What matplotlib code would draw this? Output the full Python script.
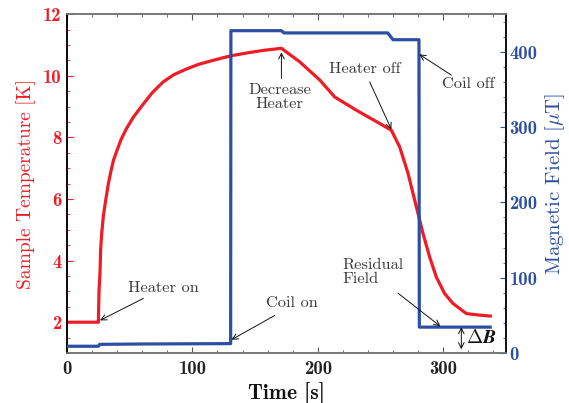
import numpy as np
import matplotlib
matplotlib.use("Agg")
import matplotlib.pyplot as plt

plt.rcParams['mathtext.fontset'] = 'cm'
plt.rcParams['axes.unicode_minus'] = False

# sample temperature [K] vs time [s]
t_temp = [0, 25, 25.5, 26.3, 26.8, 27.6, 28.9, 31, 33, 35, 37, 39.6, 43, 47.6, 53,
          60.8, 68, 76.7, 85, 95.4, 105, 116.6, 125, 132.5, 145, 158, 171,
          172.3, 185.6, 201.6, 213.5, 230.8, 249.4, 258.7, 265.3, 272, 277.3,
          281.3, 284, 289.2, 294.5, 301.2, 307.8, 318.5, 329, 337.6]
temp = [2.0, 2.0, 3.0, 3.6, 4.34, 4.85, 5.42, 6.0, 6.5, 6.9, 7.25, 7.55, 7.92, 8.3, 8.66,
        9.08, 9.45, 9.8, 10.03, 10.22, 10.37, 10.5, 10.59, 10.66, 10.75, 10.83, 10.89,
        10.85, 10.45, 9.86, 9.31, 8.88, 8.45, 8.23, 7.69, 6.83, 5.96,
        5.31, 4.87, 4.12, 3.47, 2.93, 2.61, 2.28, 2.23, 2.2]

# magnetic field [uT] vs time [s]
t_field = [0, 25, 26, 60, 130.5, 130.7, 171, 173, 255.8, 260, 280.7, 281, 337.5]
field = [9, 9, 11.5, 12, 12.5, 428, 428, 425, 425, 416, 416, 34.4, 34.4]

red = "#ee1c25"
blue = "#2d4fa3"
grey = "#3a3a3a"

fig = plt.figure(figsize=(5.69, 4.03), dpi=100)
ax = fig.add_axes([0.1178, 0.124, 0.7712, 0.841])
ax2 = ax.twinx()

ax.plot(t_temp, temp, color=red, lw=2.3, zorder=3)
ax2.plot(t_field, field, color=blue, lw=2.3, zorder=3)

ax.set_xlim(0, 350)
ax.set_ylim(1, 12)
ax2.set_ylim(0, 450)

ax.set_xticks([0, 100, 200, 300])
ax.set_xticks(np.arange(0, 351, 20), minor=True)
ax.set_yticks([2, 4, 6, 8, 10, 12])
ax.set_yticks(np.arange(1, 12.01, 0.5), minor=True)
ax2.set_yticks([0, 100, 200, 300, 400])
ax2.set_yticks(np.arange(0, 451, 20), minor=True)

for lab in ax.get_xticklabels():
    lab.set_fontfamily("cmb10"); lab.set_fontsize(13.5); lab.set_color("#222222")
for lab in ax.get_yticklabels():
    lab.set_fontfamily("cmb10"); lab.set_fontsize(13.5); lab.set_color(red)
for lab in ax2.get_yticklabels():
    lab.set_fontfamily("cmb10"); lab.set_fontsize(13.5); lab.set_color(blue)

ax.tick_params(axis="x", which="both", direction="in", top=True, colors="#555555", labelcolor="#222222", pad=5)
ax.tick_params(axis="x", which="major", length=4)
ax.tick_params(axis="x", which="minor", length=2.5)
ax.tick_params(axis="y", which="both", direction="in", colors=red, labelcolor=red, pad=4)
ax.tick_params(axis="y", which="major", length=4)
ax.tick_params(axis="y", which="minor", length=2.5)
ax2.tick_params(axis="y", which="both", direction="in", colors=blue, labelcolor=blue, pad=2.5)
ax2.tick_params(axis="y", which="major", length=4)
ax2.tick_params(axis="y", which="minor", length=2.5)

for sp in ["bottom", "top"]:
    ax.spines[sp].set_color("#777777")
    ax2.spines[sp].set_color("#777777")
ax.spines["left"].set_color("#333333")
ax2.spines["right"].set_color("#111111")
for a in (ax, ax2):
    for sp in a.spines.values():
        sp.set_linewidth(1.2)

ax.set_xlabel("Time [s]", fontfamily="cmb10", fontsize=15.5, color="#111111", labelpad=3)
ax.set_ylabel("Sample Temperature [K]", fontfamily="cmr10", fontsize=14, color=red, labelpad=5)
ax2.set_ylabel(r"Magnetic Field [$\mu$T]", fontfamily="cmr10", fontsize=15, color=blue, labelpad=4)

txt = dict(fontfamily="cmr10", fontsize=11.8, color=grey)
arr = dict(arrowstyle="->", color="#111111", lw=0.7, shrinkA=0, shrinkB=0)

# temperature annotations
ax.text(48.6, 3.1, "Heater on", ha="left", va="center", **txt)
ax.annotate("", xy=(26.3, 2.06), xytext=(60.8, 2.77), arrowprops=arr)
ax.text(169.5, 9.3, "Decrease\nHeater", ha="center", va="center", linespacing=1.0, **txt)
ax.annotate("", xy=(171, 10.76), xytext=(171, 9.91), arrowprops=arr)
ax.text(237.5, 10.21, "Heater off", ha="center", va="center", **txt)
ax.annotate("", xy=(258.7, 8.26), xytext=(241.4, 9.8), arrowprops=arr)

# field annotations
ax2.text(159, 65.8, "Coil on", ha="left", va="center", **txt)
ax2.annotate("", xy=(131.2, 17.7), xytext=(165.7, 49.9), arrowprops=arr)
ax2.text(320, 356.8, "Coil off", ha="center", va="center", **txt)
ax2.annotate("", xy=(281, 396.6), xytext=(306.5, 369), arrowprops=arr)
ax2.text(219.7, 107.3, "Residual\nField", ha="left", va="center", linespacing=1.0, **txt)
ax2.annotate("", xy=(297.8, 35.4), xytext=(264, 79.5), arrowprops=arr)
ax2.annotate("", xy=(314.5, 34.4), xytext=(314.5, 5), arrowprops=dict(arrowstyle="<->", color="#111111", lw=0.7, shrinkA=0, shrinkB=0))
ax2.text(318.5, 20.1, r"$\mathbf{\Delta} \boldsymbol{B}$", ha="left", va="center", fontsize=14, color="#111111")

fig.savefig("out.png", dpi=100)
